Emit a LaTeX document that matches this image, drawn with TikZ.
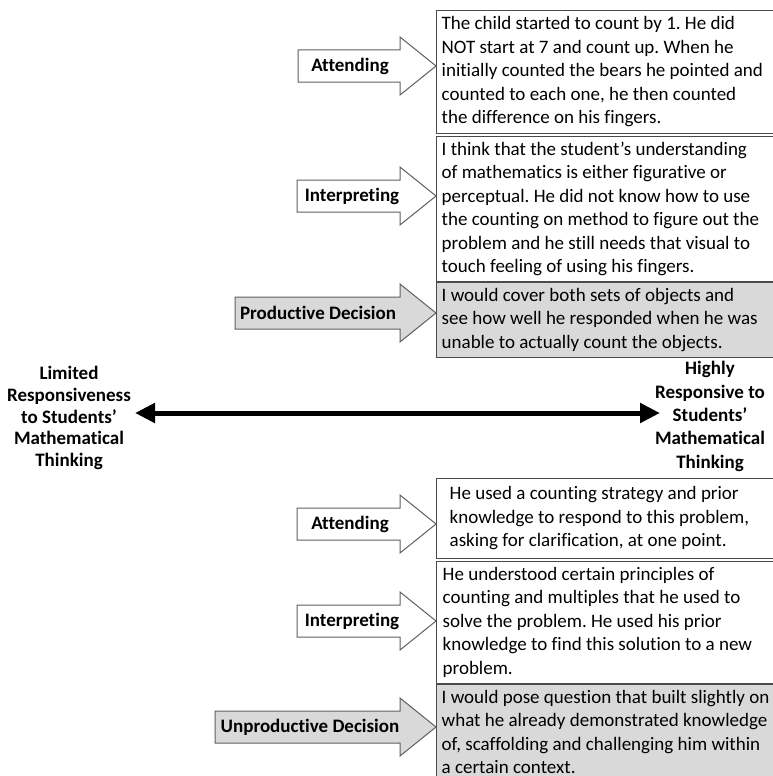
\documentclass[tikz,border=0pt]{standalone}
\usepackage{fontspec}
\setmainfont{Carlito}[Ligatures=NoCommon]
\usetikzlibrary{arrows.meta}
\frenchspacing
\definecolor{boxgray}{HTML}{D9D9D9}
\definecolor{edgegray}{HTML}{4A4A4A}
\definecolor{arrowedge}{HTML}{606060}
\tikzset{
  txtbox/.style={draw=edgegray, line width=1.4bp, anchor=north west,
    inner xsep=5bp, inner ysep=2bp,
    font=\fontsize{19bp}{23.5bp}\selectfont},
  decbox/.style={txtbox, fill=boxgray},
  arrowbody/.style={draw=arrowedge, line width=1bp, fill=white, line join=miter},
  decarrow/.style={arrowbody, fill=boxgray},
  steplabel/.style={font=\bfseries\fontsize{19bp}{23bp}\selectfont, inner sep=0pt},
  sidelabel/.style={font=\bfseries\fontsize{19bp}{21.8bp}\selectfont, align=center, inner sep=0pt},
  spectrum/.style={line width=5bp, {Triangle[length=20bp,width=19bp]}-{Triangle[length=20bp,width=19bp]}}
}
% lines of a text box, set flush left in a block of fixed width
\newcommand\boxlines[2][327bp]{\makebox[#1][l]{\begin{tabular}{@{}l@{}}#2\end{tabular}}}
% block arrow: style, left end of the shaft, vertical centre
\newcommand\blockarrow[3]{%
  \draw[#1] (#2,#3-16) -- (400,#3-16) -- (400,#3-29) -- (436,#3)
    -- (400,#3+29) -- (400,#3+16) -- (#2,#3+16) -- cycle;}
\begin{document}
\begin{tikzpicture}[x=1bp,y=-1bp]
\fill[white] (0,0) rectangle (773,776);
\useasboundingbox (0,0) rectangle (773,776);

% ---- upper case: productive decision ----
\blockarrow{arrowbody}{298}{66}
\node[steplabel] (att1) at (350,66) {Attending};
\node[txtbox, minimum height=123bp] (obs1) at (436,10)
  {\boxlines{The child started to count by 1. He did\\
   NOT start at 7 and count up. When he\\
   initially counted the bears he pointed and\\
   counted to each one, he then counted\\
   the difference on his fingers.}};

\blockarrow{arrowbody}{297}{196}
\node[steplabel] (int1) at (352,196) {Interpreting};
\node[txtbox, minimum height=143bp] (obs2) at (436,136)
  {\boxlines{I think that the student’s understanding\\
   of mathematics is either figurative or\\
   perceptual. He did not know how to use\\
   the counting on method to figure out the\\
   problem and he still needs that visual to\\
   touch feeling of using his fingers.}};

\blockarrow{decarrow}{235}{313}
\node[steplabel] (dec1) at (318,313) {Productive Decision};
\node[decbox, minimum height=75bp] (obs3) at (436,282)
  {\boxlines{I would cover both sets of objects and\\
   see how well he responded when he was\\
   unable to actually count the objects.}};

% ---- responsiveness spectrum ----
\node[sidelabel] (lowend) at (69,418)
  {Limited\\ Responsiveness\\ to Students’\\ Mathematical\\ Thinking};
\node[sidelabel, font=\bfseries\fontsize{19bp}{23.3bp}\selectfont] (highend) at (710,416.5)
  {Highly\\ Responsive to\\ Students’\\ Mathematical\\ Thinking};
\coordinate (lowtip) at (135,413);
\coordinate (hightip) at (660,413);
\draw[spectrum] (lowtip) -- (hightip);

% ---- lower case: unproductive decision ----
\blockarrow{arrowbody}{297}{524}
\node[steplabel] (att2) at (350,524) {Attending};
\node[txtbox, minimum height=80bp, inner xsep=13bp] (obs4) at (436,478)
  {\boxlines[311bp]{He used a counting strategy and prior\\
   knowledge to respond to this problem,\\
   asking for clarification, at one point.}};

\blockarrow{arrowbody}{297}{621}
\node[steplabel] (int2) at (352,621) {Interpreting};
\node[txtbox, minimum height=119bp, inner xsep=6bp] (obs5) at (436,561)
  {\boxlines[325bp]{He understood certain principles of\\
   counting and multiples that he used to\\
   solve the problem. He used his prior\\
   knowledge to find this solution to a new\\
   problem.}};

\blockarrow{decarrow}{215}{727}
\node[steplabel] (dec2) at (310,727) {Unproductive Decision};
\node[decbox, minimum height=98bp] (obs6) at (436,684)
  {\boxlines{I would pose question that built slightly on\\
   what he already demonstrated knowledge\\
   of, scaffolding and challenging him within\\
   a certain context.}};
\end{tikzpicture}
\end{document}
